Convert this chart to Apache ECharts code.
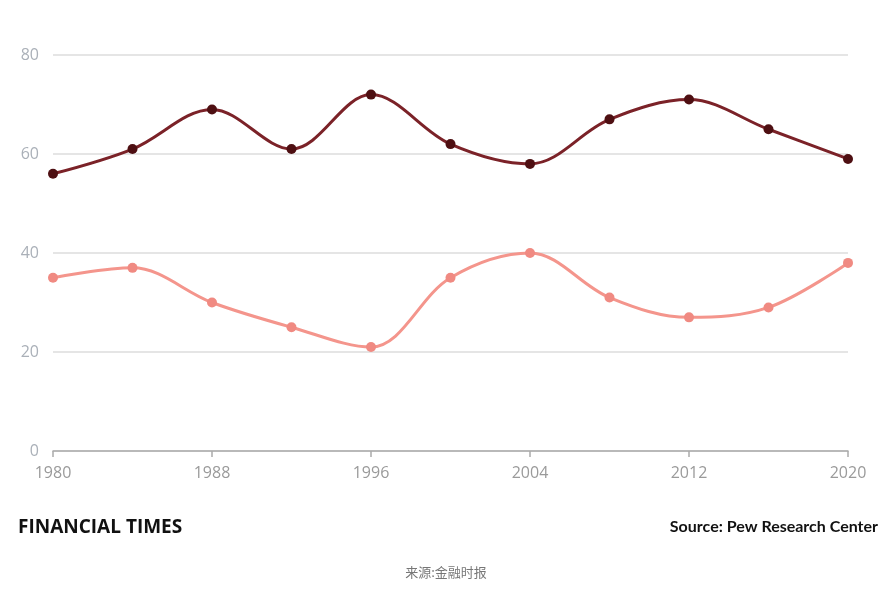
<!DOCTYPE html>
<html><head><meta charset="utf-8">
<script src="https://cdn.jsdelivr.net/npm/echarts@6/dist/echarts.min.js"></script>
<style>html,body{margin:0;padding:0;background:#fff}#c{width:892px;height:590px}</style>
</head><body><div id="c"></div>
<script>
const years = [1980,1984,1988,1992,1996,2000,2004,2008,2012,2016,2020];
const seriesDark = [56,61,69,61,72,62,58,67,71,65,59];
const seriesLight = [35,37,30,25,21,35,40,31,27,29,38];
const yTicks = [0,20,40,60,80];
const xTicks = [1980,1988,1996,2004,2012,2020];

const chart = echarts.init(document.getElementById('c'));
chart.setOption({
  backgroundColor:'#fff',
  animation:false,
  grid:{left:53,right:44,top:55,bottom:139},
  xAxis:{type:'value',min:1980,max:2020,interval:8,
    axisLine:{show:true,lineStyle:{color:'#aaaaaa',width:1.5}},
    axisTick:{show:true,length:6,lineStyle:{color:'#aaaaaa',width:1.5}},
    splitLine:{show:false},
    axisLabel:{color:'#9a9a9a',fontSize:16,fontFamily:'Open Sans',margin:14,
      formatter:v=>xTicks.includes(v)?String(v):''}},
  yAxis:{type:'value',min:0,max:80,interval:20,
    axisLine:{show:false},axisTick:{show:false},
    splitLine:{lineStyle:{color:'#dddddd',width:1.5}},
    axisLabel:{color:'#aab0b8',fontSize:16,fontFamily:'Open Sans',margin:14,
      formatter:v=>yTicks.includes(v)?String(v):''}},
  series:[
    {type:'line',smooth:0.35,data:years.map((y,i)=>[y,seriesDark[i]]),
     symbol:'circle',symbolSize:10,
     lineStyle:{color:'#7b2228',width:3},itemStyle:{color:'#4e0f12'}},
    {type:'line',smooth:0.35,data:years.map((y,i)=>[y,seriesLight[i]]),
     symbol:'circle',symbolSize:10,
     lineStyle:{color:'#f4958c',width:3},itemStyle:{color:'#f08a82'}}
  ],
  graphic:[
    {type:'text',left:18,top:518,style:{text:'FINANCIAL TIMES',fill:'#111',font:'bold 19px "Open Sans"'}},
    {type:'text',right:14,top:519,style:{text:'Source: Pew Research Center',fill:'#111',font:'bold 16px Lato'}},
    {type:'text',left:'center',top:566,style:{text:'来源:金融时报',fill:'#777',font:'13px "Noto Sans CJK SC"'}}
  ]
});
</script></body></html>
